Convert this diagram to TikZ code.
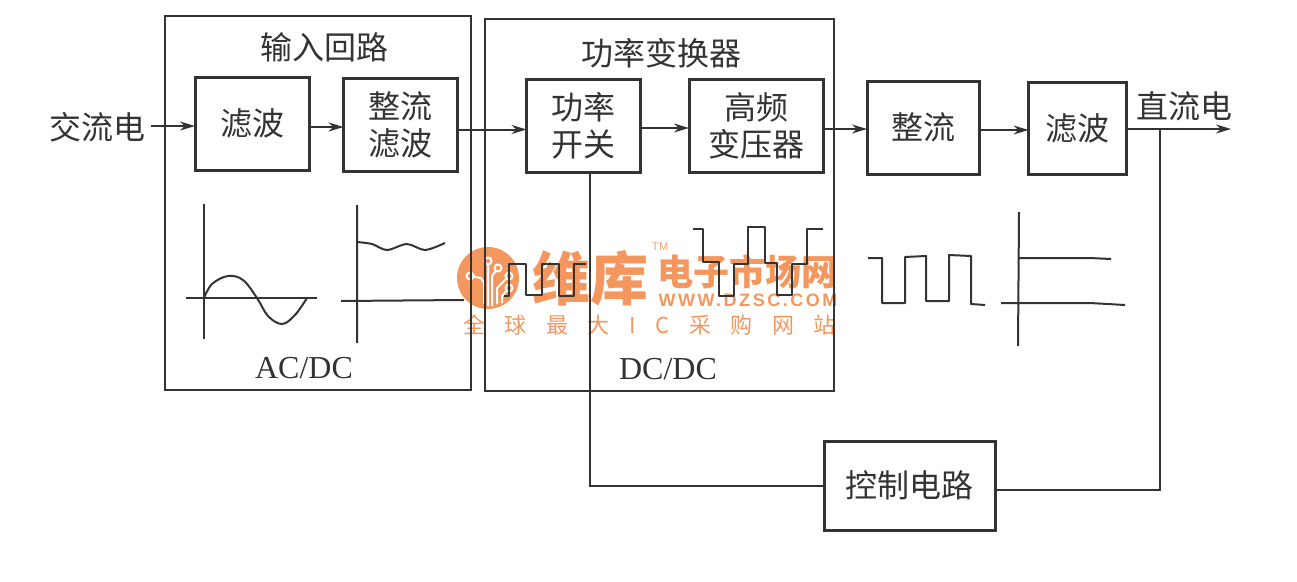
\documentclass[tikz,border=0pt]{standalone}
\usepackage{fontspec}
\usetikzlibrary{arrows.meta}
\newfontfamily\cjk{Noto Sans CJK SC}
\newfontfamily\cjkwide[LetterSpace=89]{Noto Sans CJK SC}
\newfontfamily\latn{Liberation Serif}
\newfontfamily\webfont[LetterSpace=14]{Liberation Sans}
\definecolor{cink}{HTML}{333333}
\definecolor{cmark}{HTML}{F4975F}

\begin{document}
\begin{tikzpicture}[x=1pt,y=-1pt,
  box/.style={draw=cink, line width=3pt, inner sep=0pt, outer sep=0pt, align=center, font=\cjk\fontsize{32}{37}\selectfont, text=cink},
  frame/.style={draw=cink, line width=2pt, inner sep=0pt},
  lbl/.style={inner sep=2pt, text=cink, font=\cjk\fontsize{32}{37}\selectfont},
  lbllat/.style={inner sep=0pt, text=cink, font=\latn\fontsize{32}{37}\selectfont},
  arr/.style={draw=cink, line width=2pt, -{Stealth[length=15pt,width=9pt]}},
  link/.style={draw=cink, line width=2pt},
  wave/.style={draw=cink, line width=2pt, line join=round},
  wmark/.style={inner sep=0pt, text=cmark}]
\useasboundingbox (0,0) rectangle (1297,581);

\fill[cmark] (488,278) circle (31);
\draw[white, line width=2pt, line join=round]
  (470,276) -- (481,278) -- (484,283) -- (484,304)
  (488,261) -- (488,306)
  (498,268) -- (492,276) -- (492,306)
  (509,276) -- (497,288) -- (497,304)
  (509,288) -- (502,296) -- (502,303);
\foreach \cx/\cy in {470/276,488/261,498/268,509/276,509/288}
  \draw[white, fill=cmark, line width=2pt] (\cx,\cy) circle (3.5);

\node[wmark, font=\cjk\bfseries\fontsize{58}{58}\selectfont] (wmname) at (590,278) {维库};
\node[wmark, font=\cjk\bfseries\fontsize{36}{36}\selectfont] (wmmarket) at (747.5,272) {电子市场网};
\node[wmark, font=\sffamily\fontsize{11}{11}\selectfont] (wmtm) at (660,247) {TM};
\node[wmark, font=\webfont\bfseries\fontsize{18}{18}\selectfont] (wmweb) at (748,300) {WWW.DZSC.COM};
\node[wmark, font=\cjkwide\fontsize{22}{22}\selectfont] (wmslogan) at (649.5,325) {全球最大IC采购网站};

\node[frame, minimum width=306pt, minimum height=374pt] (inframe) at (318,203) {};
\node[frame, minimum width=349pt, minimum height=372pt] (pwframe) at (659.5,205) {};
\node[lbl] (intitle) at (324,47) {输入回路};
\node[lbl] (pwtitle) at (661,53) {功率变换器};
\node[lbllat] (acdc) at (304,368) {AC/DC};
\node[lbllat] (dcdc) at (668,369) {DC/DC};

\node[lbl] (acin) at (97,127) {交流电};
\node[box, minimum width=114pt, minimum height=93pt] (filta) at (252,123.5) {滤波};
\node[box, minimum width=114pt, minimum height=93pt] (rectb) at (400.5,124.5) {整流\\滤波};
\node[box, minimum width=114pt, minimum height=93pt] (pwsw) at (583.5,125.5) {功率\\开关};
\node[box, minimum width=134pt, minimum height=93pt] (hftr) at (756,126) {高频\\变压器};
\node[box, minimum width=112pt, minimum height=93pt] (rectc) at (923,127.5) {整流};
\node[box, minimum width=98pt, minimum height=92pt] (filtd) at (1077.5,128) {滤波};
\node[lbl] (dcout) at (1184,106) {直流电};
\node[box, minimum width=171pt, minimum height=89pt] (ctrl) at (909.5,485.5) {控制电路};

\coordinate (outend) at (1231,129);
\coordinate (tap) at (1160,129);

\draw[arr] ([xshift=4pt,yshift=1pt]acin.east) -- ([yshift=-2.5pt]filta.west);
\draw[arr] ([yshift=-3.5pt]filta.east) -- ([yshift=-2.5pt]rectb.west);
\draw[arr] ([yshift=-5pt]rectb.east) -- ([yshift=-4pt]pwsw.west);
\draw[arr] ([yshift=-2.5pt]pwsw.east) -- ([yshift=-2pt]hftr.west);
\draw[arr] ([yshift=-3pt]hftr.east) -- ([yshift=-1.5pt]rectc.west);
\draw[arr] ([yshift=-2.5pt]rectc.east) -- ([yshift=-2pt]filtd.west);
\draw[arr] ([yshift=-1pt]filtd.east) -- (outend);
\draw[link] (tap) |- ([yshift=-4.5pt]ctrl.east);
\draw[link] (ctrl.west) -| ([xshift=6.5pt]pwsw.south);

\draw[wave] (204,204) -- (204,339) (186,298) -- (317,298);
\draw[wave] plot[smooth, tension=0.6] coordinates {(204,298) (212,284) (228,276) (243,280) (257,298) (268,316) (282,324) (295,315) (307,298)};
\draw[wave] (357,205) -- (357,343) (341,301) -- (464,300);
\draw[wave] plot[smooth, tension=0.5] coordinates {(357,242) (372,244) (387,250) (407,244) (425,250) (445,243)};
\draw[wave] (504,296) -- (509,296) -- (509,264) -- (526,264) -- (526,295) -- (542,295) -- (542,264) -- (559,264) -- (559,296) -- (574,296) -- (574,264) -- (586,264);
\draw[wave] (693,229) -- (703,229) -- (703,262) -- (719,262) -- (719,296) -- (734,296) -- (734,264) -- (748,264) -- (748,227) -- (765,227) -- (765,263) -- (777,263) -- (777,295) -- (792,295) -- (792,264) -- (807,264) -- (807,229) -- (823,229);
\draw[wave] (868,258) -- (882,258) -- (882,303) -- (905,303) -- (905,257) -- (926,256) -- (926,301) -- (949,301) -- (949,255) -- (971,256) -- (971,304) -- (985,305);
\draw[wave] (1019,212) -- (1018,346) (1019,258) -- (1090,258) -- (1111,259) (1001,303) -- (1090,303) -- (1125,305);
\end{tikzpicture}
\end{document}
